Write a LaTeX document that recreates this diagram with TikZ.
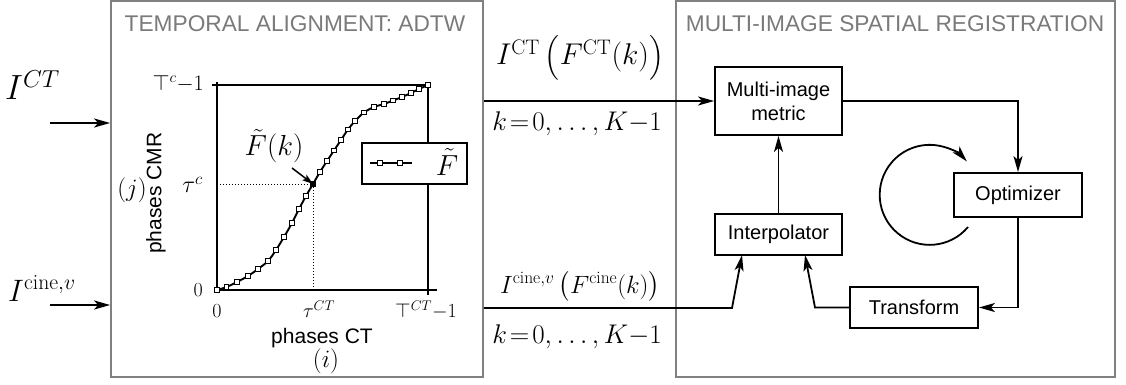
\RequirePackage{fix-cm}
\documentclass[tikz,border=0pt]{standalone}
\usepackage{amsmath}
\usepackage{fontspec}
\newfontfamily\sfont{Liberation Sans}
\usetikzlibrary{arrows.meta,plotmarks}
\begin{document}
\begin{tikzpicture}[x=1pt,y=-1pt,
  panel/.style={draw=black!50, line width=1.8pt, rectangle, inner sep=0pt},
  paneltitle/.style={text=black!52, font=\sfont\fontsize{22.7}{26}\selectfont, inner sep=0pt},
  block/.style={draw, line width=1.8pt, rectangle, inner sep=0pt, fill=white,
    font=\sfont\fontsize{20}{24}\selectfont, align=center},
  arr/.style={line width=1.8pt, -{Stealth[length=16pt,width=9pt,inset=4pt]}},
  smallarr/.style={line width=1.5pt, -{Stealth[length=11pt,width=7pt,inset=2.5pt]}},
  axis/.style={line width=1.6pt},
  guide/.style={line width=1pt, dotted},
  curveline/.style={line width=1.9pt},
  marks/.style={mark=square*, mark size=2.4pt, mark options={fill=white, line width=1pt, solid}},
  tick/.style={font=\fontsize{20}{24}\selectfont, inner sep=0pt},
  axlabel/.style={font=\sfont\fontsize{21}{24}\selectfont, inner sep=0pt},
  mlabel/.style={inner sep=0pt},
]
\useasboundingbox (0,0) rectangle (1126,385);

% panels
\node[panel, minimum width=372pt, minimum height=376pt] (ta) at (297,189) {};
\node[panel, minimum width=439pt, minimum height=376pt] (sr) at (895.5,189) {};
\node[paneltitle] (tatitle) at (295,24) {TEMPORAL ALIGNMENT: ADTW};
\node[paneltitle] (srtitle) at (895,24) {MULTI-IMAGE SPATIAL REGISTRATION};

% inputs
\node[mlabel, anchor=base west, font=\fontsize{35}{40}\selectfont] (ict) at (5,100) {$I^{CT}$};
\node[mlabel, anchor=base west, font=\fontsize{31}{35}\selectfont] (icine) at (8,301) {$I^{\mathrm{cine},v}$};
\coordinate (inct) at (50,123);
\coordinate (incine) at (50,305);
\draw[arr] (inct) -- (ta.west |- inct);
\draw[arr] (incine) -- (ta.west |- incine);

% plot axes
\coordinate (O) at (217,290);
\draw[axis] (217,82) -- (O) -- (437,290);
\draw[axis] (212,85) -- (428,85) -- (428,295);
\coordinate (fk) at (313,184);
\draw[guide] (O |- fk) -- (fk) -- (fk |- O);

% curve
\draw[curveline] plot[smooth, tension=0.55] coordinates {
 (217,290) (226.5,287) (237,282) (248,276) (258,269) (268,261) (276,250)
 (284,237) (292,223) (299,209) (306,196) (313,184) (320,172) (327,161)
 (334,150.5) (341,140) (348,129.5) (355,121) (364,112.5) (374,107) (384,104)
 (393,100.5) (402,97) (411,93) (419,89) (428,85)};
\draw[marks] plot[only marks] coordinates {
 (217,290) (226.5,287) (237,282) (248,276) (258,269) (268,261) (276,250)
 (284,237) (292,223) (299,209) (306,196) (320,172) (327,161)
 (334,150.5) (341,140) (348,129.5) (355,121) (364,112.5) (374,107) (384,104)
 (393,100.5) (402,97) (411,93) (419,89) (428,85)};
\fill (fk) ++(-3,-3) rectangle ++(6,6);

% F(k) label and arrow
\node[mlabel, font=\fontsize{29}{33}\selectfont] (fklabel) at (274,146) {$\tilde{F}(k)$};
\coordinate (fkstart) at (292,168);
\draw[smallarr] (fkstart) -- (fk);

% legend
\draw[line width=1.6pt, fill=white] (362,143) rectangle (467,184);
\draw[curveline] (370,163) -- (412,163);
\draw[marks] plot[only marks] coordinates {(380,163) (400,163)};
\node[mlabel, font=\fontsize{29}{33}\selectfont] (legendtext) at (447,162) {$\tilde{F}$};

% tick labels
\node[tick, anchor=east, font=\fontsize{22}{26}\selectfont] (ytop) at (204,84) {$\top^{c}{-}1$};
\node[tick, anchor=east, font=\fontsize{24}{28}\selectfont] (ytau) at (203,185) {$\tau^{c}$};
\node[tick, anchor=east] (yzero) at (203,290) {$0$};
\node[tick] (xzero) at (217,311) {$0$};
\node[tick] (xtau) at (319,309) {$\tau^{CT}$};
\node[tick] (xtop) at (426,310) {$\top^{CT}{-}1$};
\node[axlabel] (xlab) at (322,338) {phases CT};
\node[mlabel, font=\fontsize{25}{29}\selectfont] (xi) at (326,361) {$(i)$};
\node[axlabel, rotate=90] (ylab) at (156,193) {phases CMR};
\node[mlabel, font=\fontsize{25}{29}\selectfont] (yj) at (132,190) {$(j)$};

% middle labels
\node[mlabel, anchor=base, font=\fontsize{30}{34}\selectfont] (lct) at (580,65)
  {$I^{\mathrm{CT}}\,\big(F^{\mathrm{CT}}(k)\big)$};
\node[mlabel, anchor=base, font=\fontsize{27}{31}\selectfont] (k1) at (577,130)
  {$k\!=\!0,\ldots,K{-}1$};
\node[mlabel, anchor=base, font=\fontsize{25}{29}\selectfont] (lcine) at (580,293)
  {$I^{\mathrm{cine},v}\,\big(F^{\mathrm{cine}}(k)\big)$};
\node[mlabel, anchor=base, font=\fontsize{27}{31}\selectfont] (k2) at (577,343)
  {$k\!=\!0,\ldots,K{-}1$};

% registration blocks
\node[block, minimum width=127pt, minimum height=68pt] (metric) at (778.5,101) {Multi-image\\metric};
\node[block, minimum width=127pt, minimum height=41pt] (interp) at (778.5,234.5) {Interpolator};
\node[block, minimum width=128pt, minimum height=44pt] (opt) at (1018,195) {Optimizer};
\node[block, minimum width=128pt, minimum height=41pt] (trans) at (914,307.5) {Transform};

% connectors
\draw[arr] (ta.east |- metric.west) -- (metric.west);
\coordinate (cinebend) at (732,308);
\coordinate (cineend) at (742,255);
\draw[arr] (ta.east |- cinebend) -- (cinebend) -- (cineend);
\draw[arr] (interp.north) -- (metric.south);
\draw[arr] (metric.east) -| (opt.north);
\draw[arr] (opt.south) |- (trans.east);
\coordinate (transbend) at (815,307.5);
\coordinate (transend) at (805,255);
\draw[arr] (trans.west) -- (transbend) -- (transend);

% loop arc
\coordinate (loopstart) at (968,227);
\draw[arr] (loopstart) arc[start angle=40, end angle=318, radius=50];
\end{tikzpicture}
\end{document}
